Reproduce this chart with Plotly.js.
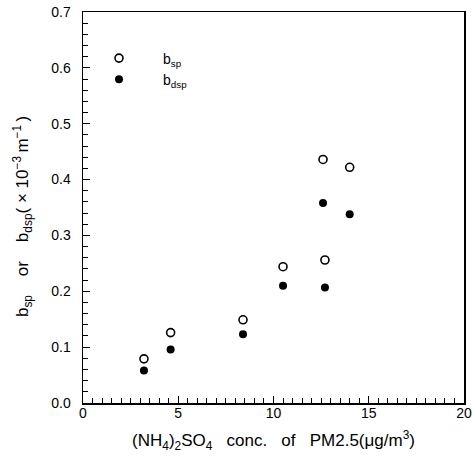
<!DOCTYPE html>
<html>
<head>
<meta charset="utf-8">
<script src="https://cdn.plot.ly/plotly-3.0.1.min.js"></script>
<style>html,body{margin:0;padding:0;background:#fff;}#chart{width:474px;height:456px;}</style>
</head>
<body>
<div id="chart"></div>
<script>
// (NH4)2SO4 concentration of PM2.5 (ug/m3)
const conc = [3.2, 4.6, 8.4, 10.5, 12.7, 12.6, 14.0];
// b_sp (x10^-3 m^-1)
const bsp = [0.079, 0.126, 0.149, 0.244, 0.256, 0.436, 0.422];
// b_dsp (x10^-3 m^-1)
const bdsp = [0.058, 0.096, 0.123, 0.210, 0.207, 0.358, 0.338];

const seriesNames = ['b<sub>sp</sub>', 'b<sub>dsp</sub>'];
const xTickVals = [0, 5, 10, 15, 20];
const yTickVals = [0.0, 0.1, 0.2, 0.3, 0.4, 0.5, 0.6, 0.7];
const xTitle = '(NH<sub>4</sub>)<sub>2</sub>SO<sub>4</sub>\u00a0\u00a0 conc.\u00a0\u00a0 of\u00a0\u00a0 PM2.5(\u03bcg/m<sup>3</sup>)';
const yTitle = 'b<sub>sp</sub>\u00a0\u00a0\u00a0 or\u00a0\u00a0\u00a0 b<sub>dsp</sub>(\u00a0\u00d7\u00a010<sup>\u22123</sup>\u2009m<sup>\u22121</sup>\u2009)';

const FONT = 'Liberation Sans, Arial, sans-serif';

const traces = [
  {
    x: conc, y: bsp, type: 'scatter', mode: 'markers', name: seriesNames[0],
    marker: {symbol: 'circle-open', size: 8, color: '#000', line: {width: 1.6, color: '#000'}}
  },
  {
    x: conc, y: bdsp, type: 'scatter', mode: 'markers', name: seriesNames[1],
    marker: {symbol: 'circle', size: 8, color: '#000'}
  }
];

const layout = {
  width: 474, height: 456,
  margin: {l: 83, r: 10, t: 12, b: 53},
  paper_bgcolor: '#fff', plot_bgcolor: '#fff',
  font: {family: FONT, color: '#000', size: 13},
  showlegend: true,
  legend: {
    x: -0.021, y: 0.922, xanchor: 'left', yanchor: 'top',
    bgcolor: 'rgba(0,0,0,0)', itemwidth: 78, tracegroupgap: 0,
    font: {family: FONT, size: 14, color: '#000'}
  },
  annotations: [{
    text: yTitle, textangle: -90, xref: 'paper', yref: 'paper',
    x: -0.157, y: 0.476, xanchor: 'center', yanchor: 'middle', showarrow: false,
    font: {family: FONT, size: 17, color: '#000'}
  }],
  xaxis: {
    range: [0, 20], tickvals: xTickVals, ticktext: xTickVals.map(String),
    ticks: 'inside', ticklen: 7, tickwidth: 1.2, tickcolor: '#000',
    minor: {dtick: 0.5, ticks: 'inside', ticklen: 5, tickwidth: 1, tickcolor: '#000', showgrid: false},
    showline: true, linecolor: '#000', linewidth: 1.5, mirror: true,
    showgrid: false, zeroline: false, ticklabelstandoff: -3,
    tickfont: {family: FONT, size: 14, color: '#000'},
    title: {text: xTitle, font: {family: FONT, size: 17, color: '#000'}, standoff: 14}
  },
  yaxis: {
    range: [0, 0.7], tickvals: yTickVals, ticktext: yTickVals.map(v => v.toFixed(1)),
    ticks: 'inside', ticklen: 7, tickwidth: 1.2, tickcolor: '#000',
    minor: {dtick: 0.02, ticks: 'inside', ticklen: 5, tickwidth: 1, tickcolor: '#000', showgrid: false},
    showline: true, linecolor: '#000', linewidth: 1.5, mirror: true,
    showgrid: false, zeroline: false, ticklabelstandoff: 8,
    tickfont: {family: FONT, size: 14, color: '#000'}
  }
};

Plotly.newPlot('chart', traces, layout, {displayModeBar: false, staticPlot: true});
</script>
</body>
</html>
